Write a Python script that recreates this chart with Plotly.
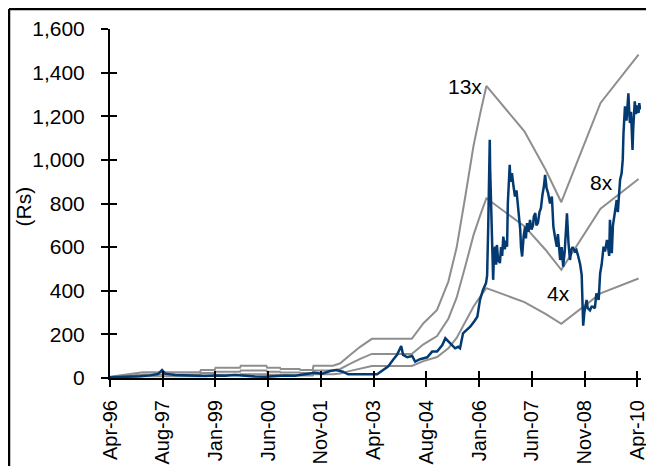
import numpy as np
import pandas as pd
import plotly.graph_objects as go

# ---------------- data ----------------
# share price (Rs), dates as decimal years
price_years = [
    1996.25, 1996.52, 1996.78, 1997.05, 1997.31, 1997.52, 1997.63, 1997.71, 1997.98,
    1998.24, 1998.51, 1998.77, 1999.04, 1999.30, 1999.57, 1999.83, 2000.10, 2000.37,
    2000.63, 2000.90, 2001.16, 2001.43, 2001.69, 2001.88, 2002.09, 2002.25, 2002.43,
    2002.57, 2002.89, 2003.15, 2003.34, 2003.50, 2003.63, 2003.76, 2003.87, 2003.98,
    2004.03, 2004.14, 2004.27, 2004.35, 2004.48, 2004.67, 2004.80, 2004.93, 2005.07,
    2005.15, 2005.23, 2005.33, 2005.41, 2005.49, 2005.54, 2005.62, 2005.73, 2005.81,
    2005.92, 2006.00, 2006.07, 2006.15, 2006.23,
    2006.26, 2006.29, 2006.31, 2006.33, 2006.34, 2006.37, 2006.39, 2006.42, 2006.44,
    2006.47, 2006.50, 2006.52, 2006.55, 2006.60, 2006.63, 2006.66, 2006.69, 2006.73,
    2006.76, 2006.79, 2006.81, 2006.86, 2006.88, 2006.92, 2006.96, 2007.00, 2007.04,
    2007.08, 2007.11, 2007.14, 2007.16, 2007.19, 2007.23, 2007.27, 2007.29, 2007.32,
    2007.36, 2007.40, 2007.44, 2007.48, 2007.50, 2007.54, 2007.57, 2007.61, 2007.65,
    2007.69, 2007.73, 2007.77, 2007.80, 2007.84, 2007.88, 2007.93, 2007.98, 2008.02,
    2008.06, 2008.11, 2008.14, 2008.17, 2008.20, 2008.24, 2008.28, 2008.32, 2008.34,
    2008.38, 2008.42, 2008.46, 2008.50, 2008.53, 2008.59, 2008.63, 2008.68, 2008.73,
    2008.77, 2008.79, 2008.81, 2008.84, 2008.87, 2008.90, 2008.93, 2008.99, 2009.03,
    2009.07, 2009.12, 2009.16, 2009.22, 2009.26, 2009.30, 2009.35, 2009.39, 2009.44,
    2009.47, 2009.50, 2009.52, 2009.57, 2009.60, 2009.66, 2009.70, 2009.73, 2009.79,
    2009.83, 2009.86, 2009.88, 2009.90, 2009.92, 2009.96, 2009.99, 2010.01, 2010.03,
    2010.05, 2010.08, 2010.12, 2010.14, 2010.17, 2010.18, 2010.21, 2010.24, 2010.28,
    2010.30, 2010.32,
]
price_values = [
    3, 5, 4, 8, 12, 18, 36, 20, 14,
    12, 10, 9, 12, 10, 14, 9, 7, 6,
    8, 12, 10, 18, 24, 20, 32, 37, 29,
    17, 16, 17, 17, 37, 52, 83, 106, 147,
    106, 95, 101, 75, 86, 95, 121, 121, 151,
    182, 167, 151, 136, 143, 136, 205, 220, 235,
    260, 281, 358, 404, 435,
    470, 700, 1000, 1092, 960, 760, 620, 450, 560,
    602, 520, 610, 545, 527, 600, 560, 648, 590,
    630, 602, 800, 977, 900, 939, 880, 832, 860,
    786, 720, 679, 600, 557, 650, 694, 640, 710,
    670, 725, 680, 700, 740, 756, 700, 711, 760,
    780, 840, 880, 931, 870, 848, 800, 832, 694,
    650, 602, 660, 580, 541, 600, 511, 580, 650,
    755, 620, 541, 590, 600, 580, 587, 557, 520,
    473, 358, 240, 300, 330, 358, 320, 310, 327,
    327, 320, 388, 358, 480, 520, 602, 580, 633,
    600, 560, 725, 572, 700, 786, 816, 760, 909,
    938, 1000, 1123, 1198, 1245, 1180, 1250, 1305, 1230,
    1169, 1220, 1046, 1150, 1230, 1268, 1210, 1250, 1215,
    1260, 1230,
]

# earnings per share used for the P/E bands
eps_years = [
    1996.25, 1996.75, 1997.12, 1998.64, 1998.66, 1999.03, 1999.05, 1999.70, 1999.72,
    2000.40, 2000.42, 2000.76, 2000.78, 2001.28, 2001.30, 2001.63, 2001.65, 2002.17,
    2002.36, 2002.63, 2002.89, 2003.20, 2004.26, 2004.57, 2004.93, 2005.23, 2005.45,
    2005.68, 2005.90, 2006.08, 2006.24, 2007.25, 2007.81, 2008.23, 2009.27, 2010.28,
]
eps_values = [
    0.4, 1.2, 2.0, 2.0, 2.85, 2.85, 3.6, 3.6, 4.3,
    4.3, 3.6, 3.6, 3.15, 3.15, 2.85, 2.85, 4.3, 4.3,
    5.2, 8.2, 11.0, 13.8, 13.8, 19.3, 24.0, 34.0, 46.0,
    64.0, 82.0, 93.5, 103.0, 87.0, 73.5, 62.0, 97.0, 114.0,
]
band_multiples = [13, 8, 4]
band_labels = ["13x", "8x", "4x"]
# label anchor points (decimal year, Rs)
label_years = [2005.68, 2009.29, 2008.15]
label_values = [1336, 895, 386]

x_tick_labels = ["Apr-96", "Aug-97", "Jan-99", "Jun-00", "Nov-01", "Apr-03",
                 "Aug-04", "Jan-06", "Jun-07", "Nov-08", "Apr-10"]
y_tick_values = [0, 200, 400, 600, 800, 1000, 1200, 1400, 1600]


def to_date(y):
    yr = int(np.floor(y))
    start = pd.Timestamp(year=yr, month=1, day=1)
    end = pd.Timestamp(year=yr + 1, month=1, day=1)
    return start + (end - start) * (y - yr)


price_dates = [to_date(v) for v in price_years]
eps_dates = [to_date(v) for v in eps_years]
tick_dates = pd.date_range("1996-04-01", "2010-04-01", periods=len(x_tick_labels))

FONT = "Liberation Sans, Arial, sans-serif"
FS = 21
FSX = 20
GRAY = "#8E8E8E"
BLUE = "#043A72"

fig = go.Figure()
for m in band_multiples:
    fig.add_trace(go.Scatter(x=eps_dates, y=[m * e for e in eps_values], mode="lines",
                             line=dict(color=GRAY, width=2), showlegend=False,
                             hoverinfo="skip"))
fig.add_trace(go.Scatter(x=price_dates, y=price_values, mode="lines",
                         line=dict(color=BLUE, width=2.5), showlegend=False))
# dummy trace for the overlay axes (inside half of the crossing ticks)
fig.add_trace(go.Scatter(x=[tick_dates[0]], y=[0], xaxis="x2", yaxis="y2",
                         mode="markers", marker=dict(opacity=0), showlegend=False,
                         hoverinfo="skip"))

xr = ["1996-04-01", "2010-05-07"]
yr_ = [0, 1600]

# the page body adds an 8px offset, so the figure is 8px smaller on each side
W, H = 646, 458
ML, MR, MT, MB = 102, 13, 21, 88
PW, PH = W - ML - MR, H - MT - MB

fig.update_layout(
    width=W, height=H, autosize=False,
    margin=dict(l=ML, r=MR, t=MT, b=MB, pad=0),
    paper_bgcolor="white", plot_bgcolor="white",
    font=dict(family=FONT, size=FS, color="black"),
    xaxis=dict(type="date", range=xr, tickmode="array", tickvals=tick_dates,
               ticktext=x_tick_labels, tickangle=-90, ticks="outside", ticklen=7,
               tickwidth=1.5, tickcolor="black", showline=True, linecolor="black",
               linewidth=2, showgrid=False, zeroline=False, ticklabelstandoff=5,
               automargin=False, tickfont=dict(family=FONT, size=FSX)),
    yaxis=dict(range=yr_, tickmode="array", tickvals=y_tick_values, tickformat=",",
               ticks="outside", ticklen=7, tickwidth=1.5, tickcolor="black",
               showline=True, linecolor="black", linewidth=2, showgrid=False,
               zeroline=False, ticklabelstandoff=12, automargin=False,
               tickfont=dict(family=FONT, size=FS)),
    xaxis2=dict(type="date", range=xr, overlaying="x", anchor="y", side="bottom",
                tickmode="array", tickvals=tick_dates, ticks="inside", ticklen=7,
                tickwidth=1.5, tickcolor="black", showticklabels=False,
                showline=False, showgrid=False, zeroline=False, automargin=False),
    yaxis2=dict(range=yr_, overlaying="y", anchor="x", side="left",
                tickmode="array", tickvals=y_tick_values, ticks="inside", ticklen=7,
                tickwidth=1.5, tickcolor="black", showticklabels=False,
                showline=False, showgrid=False, zeroline=False, automargin=False),
    showlegend=False,
)

# band labels
for lab, ly, lv in zip(band_labels, label_years, label_values):
    fig.add_annotation(x=to_date(ly), y=lv, text=lab, showarrow=False,
                       font=dict(family=FONT, size=FS, color="black"),
                       xanchor="center", yanchor="middle")

# axis title
fig.add_annotation(xref="paper", yref="paper", x=-0.163, y=0.493, text="(Rs)",
                   textangle=-90, showarrow=False,
                   font=dict(family=FONT, size=FS, color="black"),
                   xanchor="center", yanchor="middle")

# outer frame (cropped on the right and bottom)
fx = (1 - ML) / PW
fy = (H - MB - 1) / PH
fig.add_shape(type="line", xref="paper", yref="paper", x0=fx, x1=fx, y0=fy, y1=-0.5,
              line=dict(color="black", width=2.5))
fig.add_shape(type="line", xref="paper", yref="paper", x0=fx, x1=1.2, y0=fy, y1=fy,
              line=dict(color="black", width=2.5))

fig.write_html("out.html")
